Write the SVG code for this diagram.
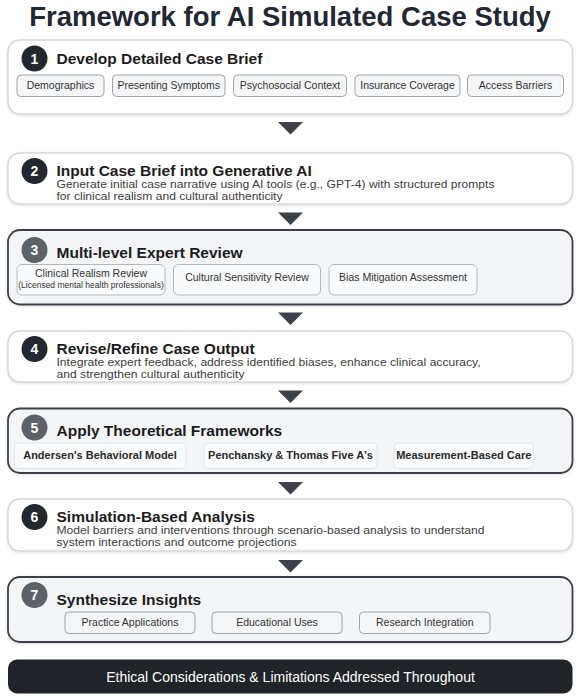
<svg xmlns="http://www.w3.org/2000/svg" width="582" height="700" viewBox="0 0 582 700">
<defs>
<style>
.title{font-family:"Liberation Sans",Arial,sans-serif;font-weight:bold;font-size:27.5px;fill:#1f2833;text-anchor:middle}
.box{fill:#ffffff;stroke:#d3d6da;stroke-width:1.5}
.boxk{fill:#f4f5f7;stroke:#3c4149;stroke-width:1.8}
.num{fill:#23272e}
.numg{fill:#5d6269}
.numt{font-family:"Liberation Sans",Arial,sans-serif;font-weight:bold;font-size:14px;fill:#ffffff;text-anchor:middle}
.h{font-family:"Liberation Sans",Arial,sans-serif;font-weight:bold;font-size:15.5px;fill:#1c1c1c}
.d{font-family:"Liberation Sans",Arial,sans-serif;font-size:11.5px;fill:#3d3d3d}
.chip{fill:#f5f6f7;stroke:#9fa4aa;stroke-width:1}
.chip3{fill:#f8f9fa;stroke:#b4b8be;stroke-width:1}
.chip5{fill:#f9fafb;stroke:#e2e4e7;stroke-width:1}
.ct{font-family:"Liberation Sans",Arial,sans-serif;font-size:10.5px;fill:#333333;text-anchor:middle}
.cs{font-size:8.5px}
.cb{font-family:"Liberation Sans",Arial,sans-serif;font-weight:bold;font-size:11px;fill:#2a2a2a;text-anchor:middle}
.arrow{fill:#3d4149}
.bar{fill:#202327}
.bt{font-family:"Liberation Sans",Arial,sans-serif;font-size:14px;fill:#ffffff;text-anchor:middle}
</style>
<filter id="sh" x="-5%" y="-20%" width="110%" height="140%"><feDropShadow dx="0" dy="1" stdDeviation="1.5" flood-color="#000000" flood-opacity="0.12"/></filter>
</defs>
<rect width="582" height="700" fill="#ffffff"/>
<text id="title" class="title" x="290" y="26">Framework for AI Simulated Case Study</text>

<g id="step1">
<rect class="box" x="8" y="40" width="564.5" height="74" rx="12" filter="url(#sh)"/>
<circle class="num" cx="34.5" cy="58.5" r="13"/>
<text class="numt" x="34.5" y="63.5">1</text>
<text class="h" x="56.5" y="64">Develop Detailed Case Brief</text>
<rect class="chip" x="17" y="75" width="87" height="21.5" rx="4"/>
<text class="ct" x="60.5" y="88.5">Demographics</text>
<rect class="chip" x="112.5" y="75" width="112.5" height="21.5" rx="4"/>
<text class="ct" x="168.75" y="88.5">Presenting Symptoms</text>
<rect class="chip" x="233.5" y="75" width="113" height="21.5" rx="4"/>
<text class="ct" x="290" y="88.5">Psychosocial Context</text>
<rect class="chip" x="355" y="75" width="105" height="21.5" rx="4"/>
<text class="ct" x="407.5" y="88.5">Insurance Coverage</text>
<rect class="chip" x="467.5" y="75" width="96" height="21.5" rx="4"/>
<text class="ct" x="515.5" y="88.5">Access Barriers</text>
</g>

<g id="step2">
<rect class="box" x="8" y="153" width="564.5" height="51" rx="12" filter="url(#sh)"/>
<circle class="num" cx="34.5" cy="171" r="13"/>
<text class="numt" x="34.5" y="176">2</text>
<text class="h" x="56.5" y="176">Input Case Brief into Generative AI</text>
<text class="d" x="56.5" y="188" textLength="438" lengthAdjust="spacingAndGlyphs">Generate initial case narrative using AI tools (e.g., GPT-4) with structured prompts</text>
<text class="d" x="56.5" y="200" textLength="226" lengthAdjust="spacingAndGlyphs">for clinical realism and cultural authenticity</text>
</g>

<g id="step3">
<rect class="boxk" x="8" y="230" width="564.5" height="74.5" rx="12" filter="url(#sh)"/>
<circle class="numg" cx="34.5" cy="250" r="13"/>
<text class="numt" x="34.5" y="255">3</text>
<text class="h" x="56.5" y="258">Multi-level Expert Review</text>
<rect class="chip3" x="17" y="264.5" width="148" height="30.5" rx="5"/>
<text class="ct" x="91" y="276.5">Clinical Realism Review</text>
<text class="ct cs" x="91" y="288">(Licensed mental health professionals)</text>
<rect class="chip3" x="173.5" y="264.5" width="147" height="30.5" rx="5"/>
<text class="ct" x="247" y="280.5">Cultural Sensitivity Review</text>
<rect class="chip3" x="329" y="264.5" width="148" height="30.5" rx="5"/>
<text class="ct" x="403" y="280.5">Bias Mitigation Assessment</text>
</g>

<g id="step4">
<rect class="box" x="8" y="331" width="564.5" height="51" rx="12" filter="url(#sh)"/>
<circle class="num" cx="34.5" cy="349" r="13"/>
<text class="numt" x="34.5" y="354">4</text>
<text class="h" x="56.5" y="354">Revise/Refine Case Output</text>
<text class="d" x="56.5" y="366" textLength="424" lengthAdjust="spacingAndGlyphs">Integrate expert feedback, address identified biases, enhance clinical accuracy,</text>
<text class="d" x="56.5" y="378" textLength="188" lengthAdjust="spacingAndGlyphs">and strengthen cultural authenticity</text>
</g>

<g id="step5">
<rect class="boxk" x="8" y="408.5" width="564.5" height="64.5" rx="12" filter="url(#sh)"/>
<circle class="numg" cx="34.5" cy="427.5" r="13"/>
<text class="numt" x="34.5" y="432.5">5</text>
<text class="h" x="56.5" y="436">Apply Theoretical Frameworks</text>
<rect class="chip5" x="14" y="443" width="172" height="25.5" rx="4"/>
<text class="cb" x="100" y="459">Andersen's Behavioral Model</text>
<rect class="chip5" x="204" y="443" width="173" height="25.5" rx="4"/>
<text class="cb" x="290.5" y="459">Penchansky &amp; Thomas Five A's</text>
<rect class="chip5" x="394" y="443" width="139.5" height="25.5" rx="4"/>
<text class="cb" x="463.75" y="459">Measurement-Based Care</text>
</g>

<g id="step6">
<rect class="box" x="8" y="499" width="564.5" height="52" rx="12" filter="url(#sh)"/>
<circle class="num" cx="34.5" cy="517" r="13"/>
<text class="numt" x="34.5" y="522">6</text>
<text class="h" x="56.5" y="522">Simulation-Based Analysis</text>
<text class="d" x="56.5" y="534" textLength="428" lengthAdjust="spacingAndGlyphs">Model barriers and interventions through scenario-based analysis to understand</text>
<text class="d" x="56.5" y="546" textLength="240" lengthAdjust="spacingAndGlyphs">system interactions and outcome projections</text>
</g>

<g id="step7">
<rect class="boxk" x="8" y="577" width="564.5" height="65" rx="12" filter="url(#sh)"/>
<circle class="numg" cx="34.5" cy="595" r="13"/>
<text class="numt" x="34.5" y="600">7</text>
<text class="h" x="56.5" y="605">Synthesize Insights</text>
<rect class="chip" x="65" y="612" width="130" height="21.5" rx="4"/>
<text class="ct" x="130" y="625.5">Practice Applications</text>
<rect class="chip" x="212" y="612" width="130" height="21.5" rx="4"/>
<text class="ct" x="277" y="625.5">Educational Uses</text>
<rect class="chip" x="359.5" y="612" width="130.5" height="21.5" rx="4"/>
<text class="ct" x="424.75" y="625.5">Research Integration</text>
</g>

<g id="connectors">
<polygon class="arrow" points="278,122 303,122 290.5,134.5"/>
<polygon class="arrow" points="278,212.5 303,212.5 290.5,225"/>
<polygon class="arrow" points="278,312.5 303,312.5 290.5,325"/>
<polygon class="arrow" points="278,390.5 303,390.5 290.5,403"/>
<polygon class="arrow" points="278,482 303,482 290.5,494.5"/>
<polygon class="arrow" points="278,560 303,560 290.5,572.5"/>
</g>

<g id="ethics">
<rect class="bar" x="8" y="659.5" width="564.5" height="34" rx="9"/>
<text class="bt" x="290.5" y="681.5">Ethical Considerations &amp; Limitations Addressed Throughout</text>
</g>
</svg>
